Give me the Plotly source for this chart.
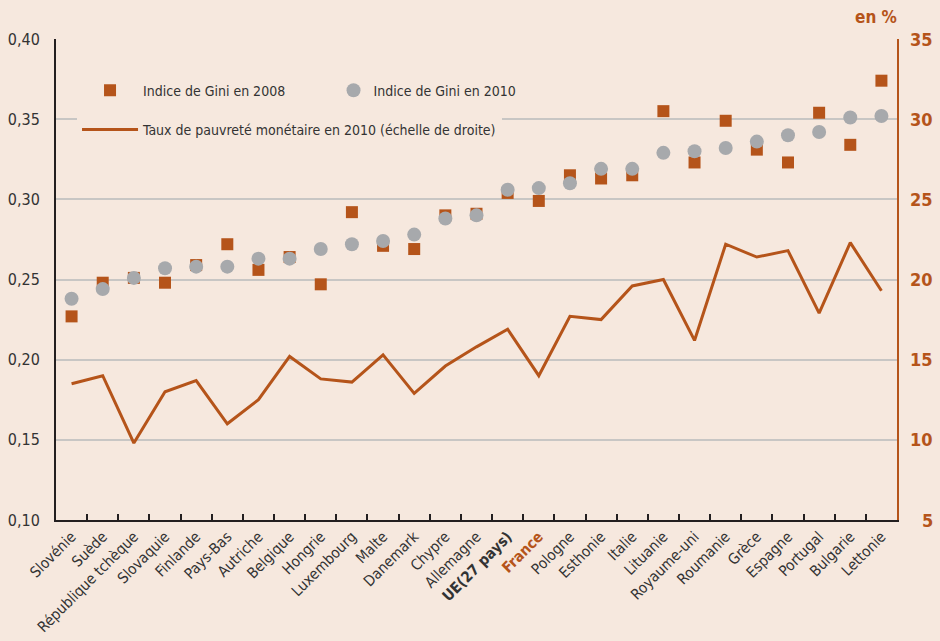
import plotly.graph_objects as go

# Data
countries = ['Slovénie', 'Suède', 'République tchèque', 'Slovaquie', 'Finlande', 'Pays-Bas',
             'Autriche', 'Belgique', 'Hongrie', 'Luxembourg', 'Malte', 'Danemark', 'Chypre',
             'Allemagne', 'UE(27 pays)', 'France', 'Pologne', 'Esthonie', 'Italie', 'Lituanie',
             'Royaume-uni', 'Roumanie', 'Grèce', 'Espagne', 'Portugal', 'Bulgarie', 'Lettonie']

gini_2008 = [0.227, 0.248, 0.251, 0.248, 0.259, 0.272, 0.256, 0.264, 0.247, 0.292, 0.271, 0.269,
             0.290, 0.291, 0.304, 0.299, 0.315, 0.313, 0.315, 0.355, 0.323, 0.349, 0.331, 0.323,
             0.354, 0.334, 0.374]

gini_2010 = [0.238, 0.244, 0.251, 0.257, 0.258, 0.258, 0.263, 0.263, 0.269, 0.272, 0.274, 0.278,
             0.288, 0.290, 0.306, 0.307, 0.310, 0.319, 0.319, 0.329, 0.330, 0.332, 0.336, 0.340,
             0.342, 0.351, 0.352]

poverty_2010 = [13.5, 14.0, 9.8, 13.0, 13.7, 11.0, 12.5, 15.2, 13.8, 13.6, 15.3, 12.9, 14.6,
                15.8, 16.9, 14.0, 17.7, 17.5, 19.6, 20.0, 16.2, 22.2, 21.4, 21.8, 17.9, 22.3, 19.3]

right_ticks = [5, 10, 15, 20, 25, 30, 35]

BG = '#F6E8DE'
ORANGE = '#B5541A'
GREY = '#A7A9AC'
TXT = '#333333'
FONT = 'Liberation Sans Narrow, Arial Narrow, DejaVu Sans Condensed, sans-serif'

# Tick labels: UE in bold, France in bold orange
tick_text = []
for c in countries:
    if c == 'UE(27 pays)':
        tick_text.append('<b>' + c + '</b>')
    elif c == 'France':
        tick_text.append("<span style='color:" + ORANGE + "'><b>" + c + '</b></span>')
    else:
        tick_text.append(c)

fig = go.Figure()

fig.add_trace(go.Scatter(x = countries, y = gini_2008,
                         name = 'Indice de Gini en 2008',
                         mode = 'markers',
                         marker = dict(symbol = 'square', size = 12, color = ORANGE),
                         legend = 'legend', legendgroup = 'a'))

fig.add_trace(go.Scatter(x = countries, y = gini_2010,
                         name = 'Indice de Gini en 2010',
                         mode = 'markers',
                         marker = dict(symbol = 'circle', size = 14, color = GREY),
                         legend = 'legend2', legendgroup = 'b'))

fig.add_trace(go.Scatter(x = countries, y = poverty_2010,
                         name = 'Taux de pauvreté monétaire en 2010 (échelle de droite)',
                         mode = 'lines',
                         line = dict(color = ORANGE, width = 3),
                         yaxis = 'y2',
                         legend = 'legend', legendgroup = 'c'))

# right axis labels, right aligned
annotations = []
for t in right_ticks:
    annotations.append(dict(x = 1, xref = 'paper', y = t, yref = 'y2',
                            text = '<b>' + str(t) + '</b>', showarrow = False,
                            xanchor = 'right', xshift = 38,
                            font = dict(size = 18, color = ORANGE, family = FONT)))
annotations.append(dict(x = 1, xref = 'paper', y = 1, yref = 'paper', yshift = 22,
                        text = '<b>en %</b>', showarrow = False,
                        xanchor = 'right', yanchor = 'middle', xshift = 2,
                        font = dict(size = 17, color = ORANGE, family = FONT)))

fig.update_layout(width = 940, height = 641,
                  margin = dict(l = 56, r = 43, t = 39, b = 121, autoexpand = False),
                  paper_bgcolor = BG, plot_bgcolor = BG,
                  separators = ', ',
                  font = dict(family = FONT, color = TXT, size = 14),
                  showlegend = True,
                  legend = dict(x = 0.025, y = 0.926, xanchor = 'left', yanchor = 'top',
                                bgcolor = BG, itemwidth = 56, tracegroupgap = 18,
                                font = dict(size = 14, color = TXT)),
                  legend2 = dict(x = 0.33, y = 0.926, xanchor = 'left', yanchor = 'top',
                                 bgcolor = 'rgba(0,0,0,0)',
                                 font = dict(size = 14, color = TXT)),
                  annotations = annotations,
                  xaxis = dict(tickmode = 'array', tickvals = countries, ticktext = tick_text,
                               range = [-0.5, len(countries) - 0.5],
                               tickangle = -45, tickson = 'boundaries', automargin = False,
                               ticks = 'inside', ticklen = 6, tickwidth = 1.5, tickcolor = '#231F20',
                               showline = True, linecolor = '#231F20', linewidth = 2,
                               showgrid = False, tickfont = dict(size = 15, color = TXT)),
                  yaxis = dict(range = [0.10, 0.40], dtick = 0.05, tickformat = '.2f',
                               showline = True, linecolor = '#231F20', linewidth = 2,
                               gridcolor = '#C8C6C4', gridwidth = 1.5, zeroline = False,
                               ticks = '', ticklabelstandoff = 11, automargin = False,
                               tickfont = dict(size = 16, color = TXT)),
                  yaxis2 = dict(range = [5, 35], dtick = 5, overlaying = 'y', side = 'right',
                                showline = True, linecolor = ORANGE, linewidth = 1.5,
                                automargin = False,
                                showgrid = False, zeroline = False, showticklabels = False))

# remove the default page margin so the figure fills the window
fig.write_html("out.html", config = {'displayModeBar': False},
               post_script = "document.body.style.margin = '0';")
